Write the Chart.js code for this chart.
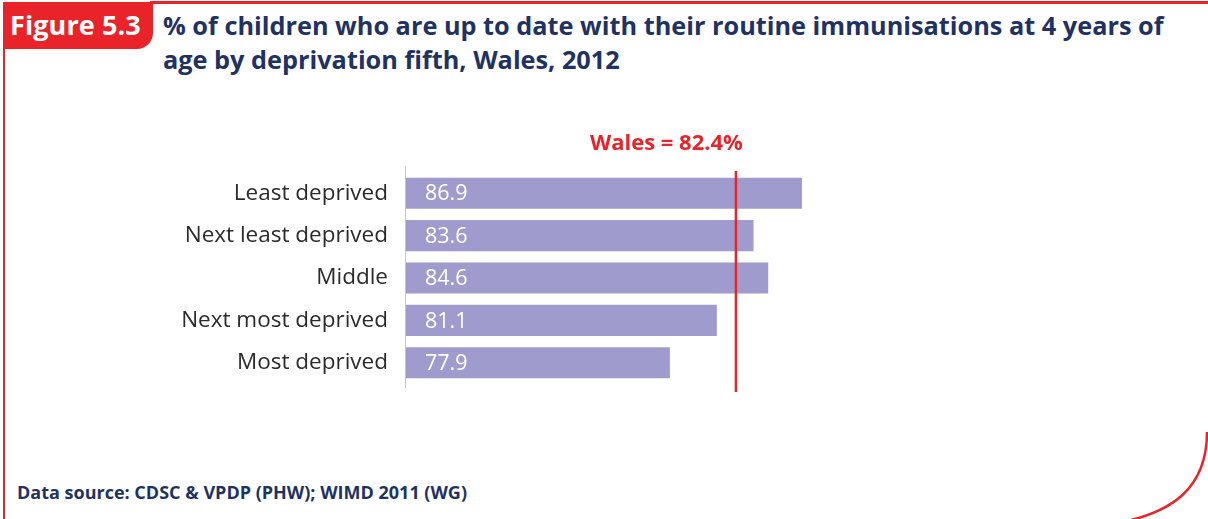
<!DOCTYPE html>
<html>
<head>
<meta charset="utf-8">
<script src="https://cdn.jsdelivr.net/npm/chart.js@4.4.1/dist/chart.umd.min.js"></script>
<style>
  html, body { margin:0; padding:0; background:#fff; }
  body { width:1208px; height:519px; position:relative; overflow:hidden; font-family:"Open Sans", "Noto Sans", sans-serif; }
  #chart { position:absolute; left:0; top:0; }
  .figbox { position:absolute; left:3px; top:2px; width:150px; height:47px; background:#e8232a; border-bottom-right-radius:16px; }
  .figtxt { position:absolute; left:10px; top:3px; color:#fff; font-weight:700; font-size:27px; line-height:44px; letter-spacing:0.1px; }
  .topline { position:absolute; left:150px; top:1px; width:1060px; height:3px; background:#e8232a; }
  .leftline { position:absolute; left:3px; top:2px; width:2px; height:520px; background:#e8232a; }
  .title { position:absolute; left:163px; top:8px; width:1045px; color:#1f3261; font-weight:700; font-size:25.3px; line-height:34px; white-space:nowrap; }
  .foot { position:absolute; left:17px; top:480px; color:#1f3261; font-weight:700; font-size:18px; white-space:nowrap; }
  svg { position:absolute; left:0; top:0; }
</style>
</head>
<body>
<div class="leftline"></div>
<div class="topline"></div>
<div class="figbox"></div>
<div class="figtxt">Figure 5.3</div>
<div class="title">% of children who are up to date with their routine immunisations at 4 years of<br>age by deprivation fifth, Wales, 2012</div>
<div class="foot">Data source: CDSC &amp; VPDP (PHW); WIMD 2011 (WG)</div>
<svg width="1208" height="519"><path d="M1207,432 C1207,488 1172,512 1122,522" fill="none" stroke="#e8232a" stroke-width="2.5"/></svg>
<canvas id="chart" width="1208" height="519"></canvas>
<script>
const categories = ["Least deprived", "Next least deprived", "Middle", "Next most deprived", "Most deprived"];
const values = [86.9, 83.6, 84.6, 81.1, 77.9];
const walesValue = 82.4;
const walesLabel = "Wales = 82.4%";
const axisMin = 59.85;
const axisMax = 99.85;

const extrasPlugin = {
  id: 'extras',
  afterDatasetsDraw(chart) {
    const ctx = chart.ctx;
    const area = chart.chartArea;
    const x = chart.scales.x;
    // axis line
    ctx.save();
    ctx.strokeStyle = '#c4c4c4';
    ctx.lineWidth = 1;
    ctx.beginPath();
    ctx.moveTo(area.left + 0.5, area.top - 6);
    ctx.lineTo(area.left + 0.5, area.bottom + 4);
    ctx.stroke();
    // value labels
    const meta = chart.getDatasetMeta(0);
    ctx.fillStyle = '#ffffff';
    ctx.font = '400 21.5px "Open Sans", "Noto Sans", sans-serif';
    ctx.textAlign = 'left';
    ctx.textBaseline = 'middle';
    meta.data.forEach((bar, i) => {
      ctx.fillText(values[i].toFixed(1), area.left + 20, bar.y + 1);
    });
    // Wales line
    const wx = x.getPixelForValue(walesValue);
    ctx.strokeStyle = '#e8232a';
    ctx.lineWidth = 2.5;
    ctx.beginPath();
    ctx.moveTo(wx, area.top - 1);
    ctx.lineTo(wx, area.bottom + 8);
    ctx.stroke();
    ctx.fillStyle = '#e8232a';
    ctx.font = '700 22px "Open Sans", "Noto Sans", sans-serif';
    ctx.textAlign = 'right';
    ctx.textBaseline = 'alphabetic';
    ctx.fillText(walesLabel, wx + 7, 150);
    ctx.restore();
  }
};

new Chart(document.getElementById('chart'), {
  type: 'bar',
  data: {
    labels: categories,
    datasets: [{
      data: values,
      backgroundColor: '#9f9ccd',
      borderWidth: 0,
      categoryPercentage: 1,
      barPercentage: 0.733
    }]
  },
  options: {
    indexAxis: 'y',
    responsive: false,
    animation: false,
    events: [],
    layout: { padding: { left: 0, top: 172, right: 216, bottom: 135 } },
    plugins: { legend: { display: false }, tooltip: { enabled: false } },
    scales: {
      x: { display: false, min: axisMin, max: axisMax },
      y: {
        afterFit(s) { s.width = 405; },
        border: { display: false },
        grid: { display: false, drawTicks: false },
        ticks: {
          padding: 17,
          color: '#2b2b2b',
          font: { family: '"Open Sans", "Noto Sans", sans-serif', size: 22.5, weight: '400' }
        }
      }
    }
  },
  plugins: [extrasPlugin]
});
</script>
</body>
</html>
